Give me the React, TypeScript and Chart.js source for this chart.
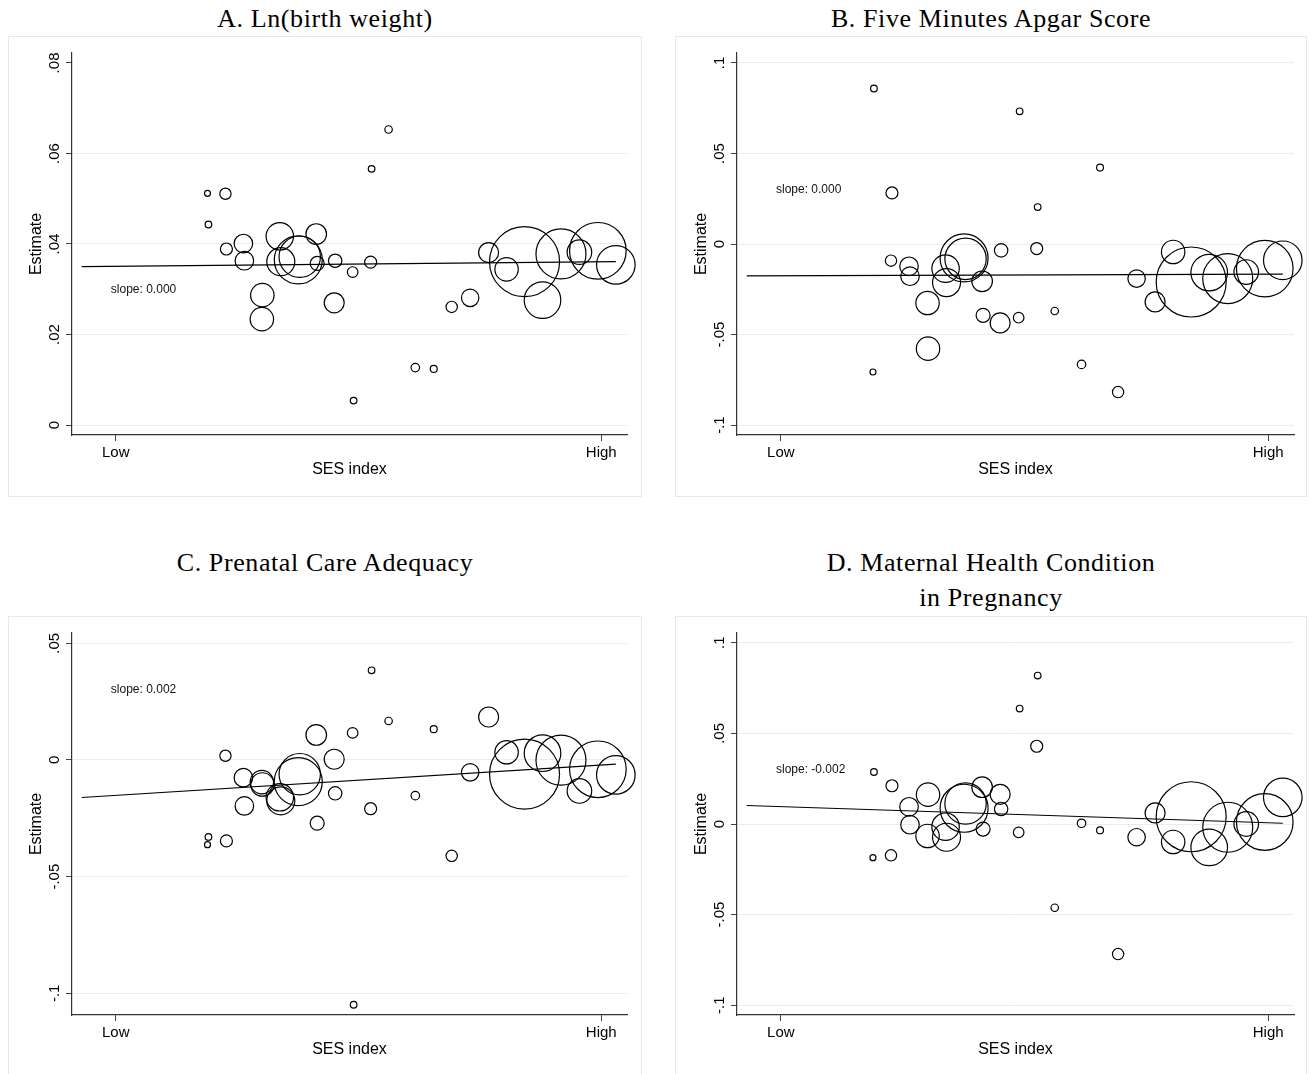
import React, { useEffect, useRef } from "react";
import { Chart, registerables } from "chart.js";

Chart.register(...registerables);

// ---- Data ----------------------------------------------------------------
// SES index position of each unit (Low = 0, High = 1)
const sesIndex = [
  0.189, 0.191, 0.226, 0.228, 0.263, 0.265, 0.301, 0.302, 0.338, 0.34, 0.376,
  0.379, 0.413, 0.415, 0.45, 0.452, 0.488, 0.49, 0.525, 0.527, 0.562, 0.617,
  0.655, 0.692, 0.73, 0.768, 0.805, 0.842, 0.879, 0.917, 0.955, 0.993, 1.03,
];
// Relative weight of each unit (bubble area)
const weights = [
  9, 11, 32, 36, 86, 86, 137, 137, 188, 196, 576, 428, 106, 49, 100, 45, 28,
  11, 36, 11, 14, 18, 12, 32, 76, 100, 137, 1225, 335, 625, 151, 801, 372,
];

const estA = [
  0.0512, 0.0443, 0.0511, 0.0389, 0.0401, 0.0363, 0.0234, 0.0287, 0.0417,
  0.0361, 0.0365, 0.0372, 0.0422, 0.0357, 0.027, 0.0363, 0.0338, 0.0054,
  0.036, 0.0566, 0.0653, 0.0127, 0.0124, 0.0261, 0.0281, 0.0381, 0.0344,
  0.0361, 0.0276, 0.0378, 0.0382, 0.0385, 0.0354,
];
const estB = [
  -0.0707, 0.0859, -0.0092, 0.0282, -0.0123, -0.0178, -0.0326, -0.0578,
  -0.0136, -0.0213, -0.0077, -0.0082, -0.0206, -0.0394, -0.0436, -0.0035,
  -0.0407, 0.0733, -0.0025, 0.0204, -0.037, -0.0665, 0.0422, -0.0818, -0.0191,
  -0.032, -0.0044, -0.021, -0.0158, -0.0191, -0.0155, -0.0136, -0.009,
];
const estC = [
  -0.0363, -0.033, 0.0018, -0.0347, -0.0076, -0.0197, -0.0095, -0.0105,
  -0.016, -0.0175, -0.0093, -0.0061, 0.0107, -0.0271, 0.0003, -0.0143, 0.0116,
  -0.1049, -0.0209, 0.0384, 0.0167, -0.0153, 0.0132, -0.0411, -0.0053, 0.0184,
  0.0033, -0.0061, 0.0029, -0.0001, -0.0133, -0.004, -0.0064,
];
const estD = [
  -0.0186, 0.0287, -0.0173, 0.0211, 0.0095, -0.0004, -0.0066, 0.0162, -0.0015,
  -0.0073, 0.0087, 0.0113, 0.0203, -0.0028, 0.0164, 0.0083, -0.0046, 0.0637,
  0.0429, 0.0819, -0.0462, 0.0004, -0.0035, -0.0718, -0.0073, 0.0061, -0.0099,
  0.004, -0.0129, -0.0018, 0.0, 0.0011, 0.0147,
];

// fitted line end points
const fitX = [-0.07, 1.03];
const fitA = [0.035, 0.0361];
const fitB = [-0.0176, -0.0166];
const fitC = [-0.0161, -0.0018];
const fitD = [0.0102, 0.0004];

const titles = [
  ["A. Ln(birth weight)"],
  ["B. Five Minutes Apgar Score"],
  ["C. Prenatal Care Adequacy"],
  ["D. Maternal Health Condition", "in Pregnancy"],
];
const slopeLabels = ["slope: 0.000", "slope: 0.000", "slope: 0.002", "slope: -0.002"];

const yTicksA = [0, 0.02, 0.04, 0.06, 0.08];
const yTickLabelsA = ["0", ".02", ".04", ".06", ".08"];
const yTicksB = [-0.1, -0.05, 0, 0.05, 0.1];
const yTickLabelsB = ["-.1", "-.05", "0", ".05", ".1"];
const yTicksC = [-0.1, -0.05, 0, 0.05];
const yTickLabelsC = ["-.1", "-.05", "0", ".05"];
const yTicksD = [-0.1, -0.05, 0, 0.05, 0.1];
const yTickLabelsD = ["-.1", "-.05", "0", ".05", ".1"];

const yRangeA = [-0.0022, 0.0822];
const yRangeB = [-0.1055, 0.1055];
const yRangeC = [-0.1093, 0.0544];
const yRangeD = [-0.1054, 0.1054];

const xRange = [-0.09, 1.053];
const xTickValues = [0, 1];
const xTickLabels = ["Low", "High"];
const slopeAt = [-0.01, 0.03];

const xTitle = "SES index";
const yTitle = "Estimate";

// ---- Layout ----------------------------------------------------------------
const SANS = '"Liberation Sans", Arial, Helvetica, sans-serif';
const SERIF = '"Liberation Serif", "Times New Roman", serif';

type PanelSpec = {
  left: number;
  top: number;
  w: number;
  h: number;
  axisLeft: number;
  plotRight: number;
  titleTop: number;
  est: number[];
  fit: number[];
  yTicks: number[];
  yTickLabels: string[];
  yRange: number[];
  hideGridAt?: number;
  title: string[];
  slope: string;
};

const panels: PanelSpec[] = [
  {
    left: 8, top: 36, w: 634, h: 461, axisLeft: 64, plotRight: 619, titleTop: 0.7,
    est: estA, fit: fitA, yTicks: yTicksA, yTickLabels: yTickLabelsA, yRange: yRangeA,
    hideGridAt: 0.08, title: titles[0], slope: slopeLabels[0],
  },
  {
    left: 675, top: 36, w: 632, h: 461, axisLeft: 62, plotRight: 619, titleTop: 0.7,
    est: estB, fit: fitB, yTicks: yTicksB, yTickLabels: yTickLabelsB, yRange: yRangeB,
    title: titles[1], slope: slopeLabels[1],
  },
  {
    left: 8, top: 616, w: 634, h: 461, axisLeft: 64, plotRight: 619, titleTop: 544.7,
    est: estC, fit: fitC, yTicks: yTicksC, yTickLabels: yTickLabelsC, yRange: yRangeC,
    title: titles[2], slope: slopeLabels[2],
  },
  {
    left: 675, top: 616, w: 632, h: 461, axisLeft: 62, plotRight: 619, titleTop: 544.7,
    est: estD, fit: fitD, yTicks: yTicksD, yTickLabels: yTickLabelsD, yRange: yRangeD,
    title: titles[3], slope: slopeLabels[3],
  },
];

function Panel({ spec }: { spec: PanelSpec }) {
  const ref = useRef<HTMLCanvasElement | null>(null);

  useEffect(() => {
    const canvas = ref.current;
    if (!canvas) return;

    const textPlugin = {
      id: "stataText",
      afterDraw(chart: any) {
        const { ctx, chartArea } = chart;
        const xs = chart.scales.x;
        const ys = chart.scales.y;
        ctx.save();
        ctx.fillStyle = "#000";

        // y tick labels (rotated)
        ctx.font = `15px ${SANS}`;
        ctx.textAlign = "center";
        ctx.textBaseline = "alphabetic";
        spec.yTicks.forEach((v, i) => {
          const py = ys.getPixelForValue(v);
          ctx.save();
          ctx.translate(chartArea.left - 13, py);
          ctx.rotate(-Math.PI / 2);
          ctx.fillText(spec.yTickLabels[i], 0, 0);
          ctx.restore();
        });

        // y title
        ctx.font = `16px ${SANS}`;
        ctx.save();
        ctx.translate(chartArea.left - 31, (chartArea.top + chartArea.bottom) / 2);
        ctx.rotate(-Math.PI / 2);
        ctx.fillText(yTitle, 0, 0);
        ctx.restore();

        // x tick labels
        ctx.font = `15px ${SANS}`;
        xTickValues.forEach((v, i) => {
          ctx.fillText(xTickLabels[i], xs.getPixelForValue(v), chartArea.bottom + 22);
        });

        // x title
        ctx.font = `16px ${SANS}`;
        ctx.fillText(xTitle, (chartArea.left + chartArea.right) / 2, chartArea.bottom + 39);

        // slope annotation
        ctx.font = `12px ${SANS}`;
        ctx.textAlign = "left";
        ctx.textBaseline = "middle";
        ctx.fillStyle = "#111";
        ctx.fillText(spec.slope, xs.getPixelForValue(slopeAt[0]), ys.getPixelForValue(slopeAt[1]));
        ctx.restore();
      },
    };

    const chart = new Chart(canvas, {
      type: "bubble",
      data: {
        datasets: [
          {
            type: "line",
            data: fitX.map((x, i) => ({ x, y: spec.fit[i] })),
            borderColor: "#000",
            borderWidth: 1.2,
            pointRadius: 0,
            fill: false,
            clip: false,
            order: 0,
          } as any,
          {
            type: "bubble",
            data: sesIndex.map((x, i) => ({ x, y: spec.est[i], r: Math.sqrt(weights[i]) })),
            backgroundColor: "rgba(0,0,0,0)",
            borderColor: "#000",
            borderWidth: 1.2,
            clip: false,
            order: 1,
          } as any,
        ],
      },
      options: {
        animation: false,
        responsive: false,
        devicePixelRatio: 1,
        events: [],
        layout: {
          autoPadding: false,
          padding: { top: 17, right: spec.w - spec.plotRight, left: 0, bottom: 0 },
        },
        plugins: {
          legend: { display: false },
          tooltip: { enabled: false },
          title: { display: false },
        },
        scales: {
          x: {
            type: "linear",
            position: "bottom",
            min: xRange[0],
            max: xRange[1],
            afterBuildTicks: (s: any) => {
              s.ticks = xTickValues.map((v) => ({ value: v }));
            },
            afterFit: (s: any) => {
              s.height = 62;
            },
            ticks: { display: false },
            grid: {
              display: true,
              drawOnChartArea: false,
              drawTicks: true,
              tickLength: 6,
              tickColor: "#444",
              tickWidth: 1,
            },
            border: { display: true, color: "#333", width: 1.2 },
          },
          y: {
            type: "linear",
            position: "left",
            min: spec.yRange[0],
            max: spec.yRange[1],
            afterBuildTicks: (s: any) => {
              s.ticks = spec.yTicks.map((v) => ({ value: v }));
            },
            afterFit: (s: any) => {
              s.width = spec.axisLeft;
            },
            ticks: { display: false },
            grid: {
              display: true,
              drawOnChartArea: true,
              drawTicks: true,
              tickLength: 6,
              tickColor: "#444",
              tickWidth: 1,
              lineWidth: 1,
              color: (c: any) =>
                spec.hideGridAt !== undefined && c.tick && Math.abs(c.tick.value - spec.hideGridAt) < 1e-9
                  ? "rgba(0,0,0,0)"
                  : "#e5edf0",
            },
            border: { display: true, color: "#333", width: 1.2 },
          },
        },
      } as any,
      plugins: [textPlugin],
    });

    return () => chart.destroy();
  }, [spec]);

  return (
    <>
      <div
        style={{
          position: "absolute",
          left: spec.left,
          top: spec.titleTop,
          width: spec.w,
          textAlign: "center",
          fontFamily: SERIF,
          fontSize: 26,
          lineHeight: "35px",
          letterSpacing: "0.6px",
          color: "#000",
          whiteSpace: "nowrap",
        }}
      >
        {spec.title.map((t, i) => (
          <div key={i}>{t}</div>
        ))}
      </div>
      <canvas
        ref={ref}
        width={spec.w}
        height={spec.h}
        style={{
          position: "absolute",
          left: spec.left,
          top: spec.top,
          width: spec.w,
          height: spec.h,
          display: "block",
        }}
      />
      <div
        style={{
          position: "absolute",
          left: spec.left,
          top: spec.top,
          width: spec.w,
          height: spec.h,
          boxSizing: "border-box",
          border: "1px solid #e3eaee",
          pointerEvents: "none",
        }}
      />
    </>
  );
}

export default function App() {
  return (
    <div
      style={{
        position: "absolute",
        left: 0,
        top: 0,
        width: 1312,
        height: 1074,
        overflow: "hidden",
        background: "#fff",
      }}
    >
      {panels.map((p, i) => (
        <Panel key={i} spec={p} />
      ))}
    </div>
  );
}
